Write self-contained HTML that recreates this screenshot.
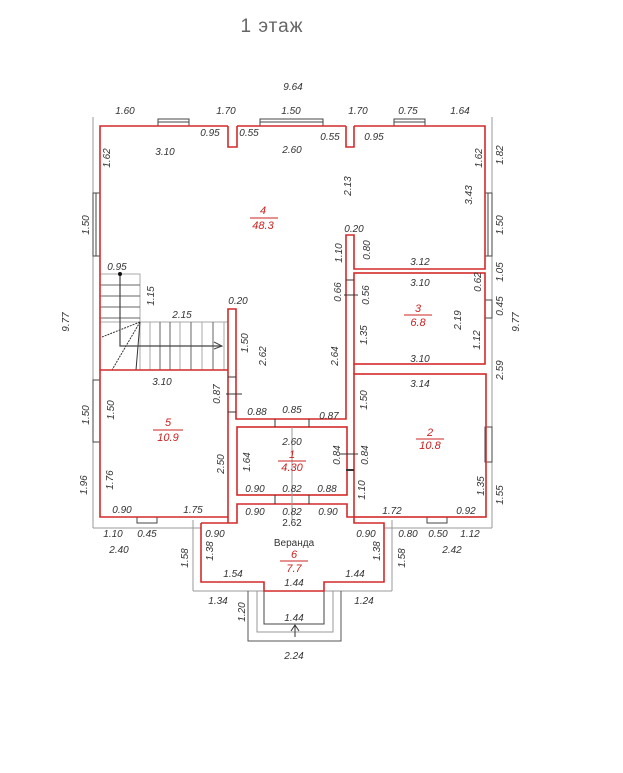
<!DOCTYPE html>
<html><head><meta charset="utf-8"><style>
body{margin:0;background:#fff;}
svg text{font-family:"Liberation Sans",sans-serif;font-style:italic;font-size:10px;fill:#333;text-anchor:middle;}
svg text.r{fill:#c22;font-size:11px;}
</style></head><body>
<svg width="623" height="768" viewBox="0 0 623 768" xmlns="http://www.w3.org/2000/svg">
<text x="272" y="32" style="font-style:normal;font-size:19px;fill:#666;letter-spacing:1px">1  этаж</text>
<g stroke="#999" stroke-width="1" fill="none">
<line x1="93" y1="117" x2="93" y2="528"/><line x1="492" y1="117" x2="492" y2="528"/>
<line x1="93" y1="528" x2="201" y2="528"/><line x1="384" y1="528" x2="492" y2="528"/>
<line x1="193" y1="520" x2="193" y2="591"/><line x1="392" y1="520" x2="392" y2="591"/>
<line x1="193" y1="591" x2="392" y2="591"/>
<polyline points="257,591 257,632 333,632 333,591"/>
<polyline points="248,591 248,641 341,641 341,591" stroke="#555"/>
<polyline points="264,591 264,624 324,624 324,591" stroke="#444"/>
</g>
<g stroke="#444" stroke-width="1" fill="#fff">
<rect x="158" y="119" width="31" height="7"/><line x1="158" y1="122" x2="189" y2="122"/>
<rect x="260" y="119" width="63" height="7"/><line x1="260" y1="122" x2="323" y2="122"/>
<rect x="394" y="119" width="31" height="7"/><line x1="394" y1="122" x2="425" y2="122"/>
<rect x="93" y="193" width="7" height="63"/><line x1="96" y1="193" x2="96" y2="256"/>
<rect x="485" y="193" width="7" height="63"/><line x1="488" y1="193" x2="488" y2="256"/>
<rect x="485" y="300" width="7" height="18"/>
<rect x="93" y="380" width="7" height="62"/>
<rect x="485" y="427" width="7" height="35"/>
<rect x="137" y="517" width="20" height="6"/>
<rect x="427" y="517" width="20" height="6"/>
</g>
<g stroke="#aaa" stroke-width="1" fill="none">
<rect x="100" y="274" width="40" height="48"/>
<rect x="140" y="322" width="88" height="48"/>
<line x1="100" y1="285" x2="140" y2="285" stroke="#666"/><line x1="100" y1="296" x2="140" y2="296" stroke="#666"/>
<line x1="100" y1="307" x2="140" y2="307" stroke="#666"/><line x1="100" y1="318" x2="140" y2="318" stroke="#666"/>
<line x1="150" y1="322" x2="150" y2="370"/><line x1="160" y1="322" x2="160" y2="370" stroke="#666"/>
<line x1="170" y1="322" x2="170" y2="370" stroke="#666"/><line x1="180" y1="322" x2="180" y2="370"/>
<line x1="191" y1="322" x2="191" y2="370" stroke="#666"/><line x1="202" y1="322" x2="202" y2="370"/>
<line x1="213" y1="322" x2="213" y2="370" stroke="#666"/><line x1="224" y1="322" x2="224" y2="370"/>
<line x1="140" y1="322" x2="102" y2="337" stroke="#333" stroke-dasharray="2,1"/>
<line x1="140" y1="322" x2="112" y2="370" stroke="#333" stroke-dasharray="2,1"/>
<line x1="140" y1="322" x2="136" y2="370" stroke="#333"/>
<polyline points="120,274 120,346 222,346" stroke="#444" stroke-width="1.2"/>
<polyline points="214,342 222,346 214,349" stroke="#444"/>
</g>
<circle cx="120" cy="274" r="2" fill="#111"/>
<g stroke="#d42a2a" stroke-width="1.6" fill="none">
<polyline points="228,126 100,126 100,370"/>
<polyline points="237,126 346,126"/><polyline points="354,126 485,126 485,269 354,269 354,235 346,235 346,419 236,419 236,309 228,309 228,370 100,370 100,517 228,517 228,370"/>
<polyline points="228,126 228,147 237,147 237,126"/>
<polyline points="346,126 346,147 354,147 354,126"/>
<rect x="354" y="273" width="131" height="91"/>
<rect x="354" y="374" width="132" height="143"/>
<polyline points="354,364 354,374"/>
<rect x="237" y="427" width="110" height="68"/>
<polyline points="201,523 201,582 264,582 264,591 324,591 324,582 384,582 384,523 354,523 354,517 347,517 347,504 237,504 237,523 201,523"/>
<polyline points="228,517 228,523"/>
</g>
<g stroke="#333" stroke-width="1">
<line x1="228" y1="377" x2="236" y2="377"/><line x1="228" y1="412" x2="236" y2="412"/><line x1="226" y1="394" x2="242" y2="394"/>
<line x1="275" y1="419" x2="275" y2="427"/><line x1="309" y1="419" x2="309" y2="427"/>
<line x1="275" y1="495" x2="275" y2="504"/><line x1="309" y1="495" x2="309" y2="504"/>
<line x1="346" y1="280" x2="354" y2="280"/><line x1="344" y1="295" x2="358" y2="295"/>
<line x1="340" y1="454" x2="358" y2="454"/><line x1="346" y1="470" x2="354" y2="470" stroke-width="2"/>
<line x1="292" y1="427" x2="292" y2="520" stroke="#999"/>
<line x1="295" y1="637" x2="295" y2="625"/><polyline points="291,631 295,625 299,631" fill="none"/>
</g>
<g stroke="#c22" stroke-width="1">
<line x1="250" y1="218" x2="278" y2="218"/><line x1="404" y1="315" x2="432" y2="315"/>
<line x1="153" y1="430" x2="183" y2="430"/><line x1="416" y1="439" x2="444" y2="439"/>
<line x1="278" y1="461" x2="306" y2="461"/><line x1="280" y1="561" x2="308" y2="561"/>
</g>
<text class="r" x="263" y="214">4</text><text class="r" x="263" y="229">48.3</text>
<text class="r" x="418" y="312">3</text><text class="r" x="418" y="326">6.8</text>
<text class="r" x="168" y="426">5</text><text class="r" x="168" y="441">10.9</text>
<text class="r" x="430" y="436">2</text><text class="r" x="430" y="449">10.8</text>
<text class="r" x="292" y="458">1</text><text class="r" x="292" y="471">4.30</text>
<text class="r" x="294" y="558">6</text><text class="r" x="294" y="572">7.7</text>
<text x="294" y="546" style="font-style:normal">Веранда</text>
<text x="293" y="90">9.64</text>
<text x="125" y="114">1.60</text><text x="226" y="114">1.70</text><text x="291" y="114">1.50</text><text x="358" y="114">1.70</text><text x="408" y="114">0.75</text><text x="460" y="114">1.64</text>
<text x="210" y="136">0.95</text><text x="249" y="136">0.55</text><text x="330" y="140">0.55</text><text x="374" y="140">0.95</text>
<text x="165" y="155">3.10</text><text x="292" y="153">2.60</text>
<text x="354" y="232">0.20</text><text x="420" y="265">3.12</text><text x="117" y="270">0.95</text>
<text x="420" y="286">3.10</text><text x="182" y="318">2.15</text><text x="238" y="304">0.20</text>
<text x="420" y="362">3.10</text><text x="162" y="385">3.10</text><text x="420" y="387">3.14</text>
<text x="257" y="415">0.88</text><text x="292" y="413">0.85</text><text x="329" y="419">0.87</text>
<text x="292" y="445">2.60</text>
<text x="255" y="492">0.90</text><text x="292" y="492">0.82</text><text x="327" y="492">0.88</text>
<text x="122" y="513">0.90</text><text x="193" y="513">1.75</text><text x="255" y="515">0.90</text><text x="292" y="515">0.82</text><text x="328" y="515">0.90</text><text x="392" y="514">1.72</text><text x="466" y="514">0.92</text>
<text x="292" y="526" style="font-style:normal">2.62</text>
<text x="113" y="537">1.10</text><text x="147" y="537">0.45</text><text x="215" y="537">0.90</text><text x="366" y="537">0.90</text><text x="408" y="537">0.80</text><text x="438" y="537">0.50</text><text x="470" y="537">1.12</text>
<text x="119" y="553">2.40</text><text x="452" y="553">2.42</text>
<text x="233" y="577">1.54</text><text x="294" y="586">1.44</text><text x="355" y="577">1.44</text>
<text x="218" y="604">1.34</text><text x="364" y="604">1.24</text><text x="294" y="621">1.44</text><text x="294" y="659">2.24</text>
<g>
<text transform="translate(110,158) rotate(-90)">1.62</text>
<text transform="translate(503,155) rotate(-90)">1.82</text>
<text transform="translate(482,158) rotate(-90)">1.62</text>
<text transform="translate(472,195) rotate(-90)">3.43</text>
<text transform="translate(351,186) rotate(-90)">2.13</text>
<text transform="translate(89,225) rotate(-90)">1.50</text>
<text transform="translate(503,225) rotate(-90)">1.50</text>
<text transform="translate(370,250) rotate(-90)">0.80</text>
<text transform="translate(342,253) rotate(-90)">1.10</text>
<text transform="translate(481,282) rotate(-90)">0.62</text>
<text transform="translate(503,272) rotate(-90)">1.05</text>
<text transform="translate(154,296) rotate(-90)">1.15</text>
<text transform="translate(341,292) rotate(-90)">0.66</text>
<text transform="translate(369,295) rotate(-90)">0.56</text>
<text transform="translate(503,306) rotate(-90)">0.45</text>
<text transform="translate(69,322) rotate(-90)">9.77</text>
<text transform="translate(519,322) rotate(-90)">9.77</text>
<text transform="translate(461,320) rotate(-90)">2.19</text>
<text transform="translate(480,340) rotate(-90)">1.12</text>
<text transform="translate(367,335) rotate(-90)">1.35</text>
<text transform="translate(248,343) rotate(-90)">1.50</text>
<text transform="translate(266,356) rotate(-90)">2.62</text>
<text transform="translate(338,356) rotate(-90)">2.64</text>
<text transform="translate(503,370) rotate(-90)">2.59</text>
<text transform="translate(220,394) rotate(-90)">0.87</text>
<text transform="translate(114,410) rotate(-90)">1.50</text>
<text transform="translate(89,415) rotate(-90)">1.50</text>
<text transform="translate(367,400) rotate(-90)">1.50</text>
<text transform="translate(340,455) rotate(-90)">0.84</text>
<text transform="translate(368,455) rotate(-90)">0.84</text>
<text transform="translate(250,462) rotate(-90)">1.64</text>
<text transform="translate(224,464) rotate(-90)">2.50</text>
<text transform="translate(113,480) rotate(-90)">1.76</text>
<text transform="translate(87,485) rotate(-90)">1.96</text>
<text transform="translate(365,490) rotate(-90)">1.10</text>
<text transform="translate(484,486) rotate(-90)">1.35</text>
<text transform="translate(503,495) rotate(-90)">1.55</text>
<text transform="translate(213,551) rotate(-90)">1.38</text>
<text transform="translate(380,551) rotate(-90)">1.38</text>
<text transform="translate(188,558) rotate(-90)">1.58</text>
<text transform="translate(405,558) rotate(-90)">1.58</text>
<text transform="translate(245,612) rotate(-90)">1.20</text>
</g>
</svg>
</body></html>
